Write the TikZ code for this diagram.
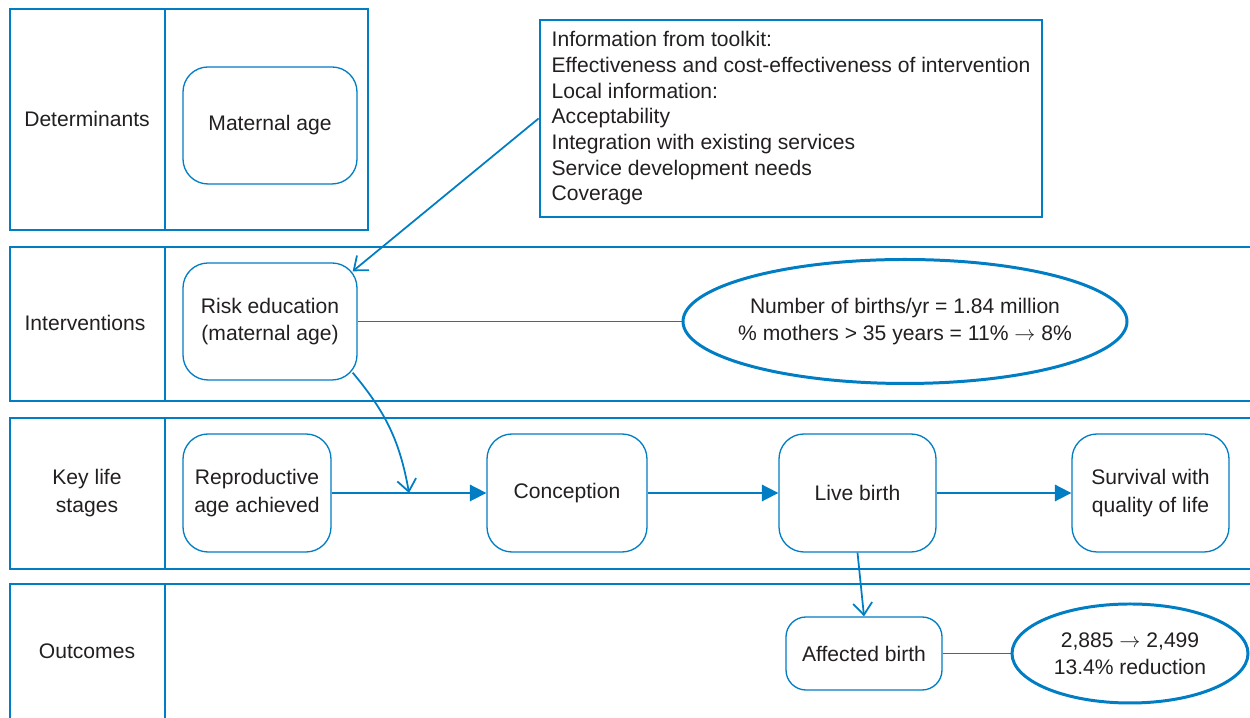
\documentclass[tikz,border=0pt]{standalone}
\usepackage{fontspec}
\setmainfont{Liberation Sans}
\usetikzlibrary{shapes.geometric,arrows.meta}
\definecolor{chartblue}{RGB}{0,125,195}
\definecolor{inkgrey}{RGB}{35,31,32}

\begin{document}
\begin{tikzpicture}[
    font=\fontsize{12}{15.5}\selectfont, text=inkgrey,
    band/.style={draw=chartblue, line width=1.1pt},
    stage/.style={draw=chartblue, line width=0.75pt, rounded corners=0.5cm,
      align=center, minimum height=2.36cm},
    oval/.style={draw=chartblue, ellipse, line width=1.7pt, inner sep=0pt},
    link/.style={draw=chartblue, line width=1pt},
    flow/.style={link, -{Triangle[length=3.3mm,width=3.3mm]}},
    barb/.style={link, -{Straight Barb[length=2.4mm,width=3.8mm]}}
  ]
    \useasboundingbox (0,0) rectangle (25,14.36);
    % Bands
    \draw[band] (0.2,9.76) rectangle (7.36,14.18);
    \draw[band] (3.3,9.76) -- (3.3,14.18);
    \draw[band] (25,9.42) -- (0.2,9.42) -- (0.2,6.34) -- (25,6.34);
    \draw[band] (3.3,9.42) -- (3.3,6.34);
    \draw[band] (25,6.0) -- (0.2,6.0) -- (0.2,2.98) -- (25,2.98);
    \draw[band] (3.3,6.0) -- (3.3,2.98);
    \draw[band] (0.2,0) -- (0.2,2.68) -- (25,2.68);
    \draw[band] (3.3,2.68) -- (3.3,0);
    % Band labels
    \node (detlabel) at (1.74,11.98) {Determinants};
    \node (intlabel) at (1.7,7.9) {Interventions};
    \node[align=center] (stagelabel) at (1.74,4.5) {Key life\\stages};
    \node (outlabel) at (1.74,1.34) {Outcomes};
    % Determinants and interventions
    \node[stage, minimum width=3.48cm, minimum height=2.34cm] (matage) at (5.4,11.85) {Maternal age};
    \node[stage, minimum width=3.48cm, minimum height=2.34cm] (risk) at (5.4,7.93) {Risk education\\(maternal age)};
    \node[draw=chartblue, line width=1.6pt, minimum width=10.04cm, minimum height=3.94cm,
      align=left, font=\fontsize{12}{14.6}\selectfont] (toolkit) at (15.82,11.99)
      {Information from toolkit:\\
       Effectiveness and cost-effectiveness of intervention\\
       Local information:\\
       Acceptability\\
       Integration with existing services\\
       Service development needs\\
       Coverage};
    \node[oval, minimum width=8.88cm, minimum height=2.48cm] (births) at (18.1,7.93) {};
    \node[align=center] (birthstext) at (births) {Number of births/yr = 1.84 million\\\% mothers > 35 years = 11\% $\rightarrow$ 8\%};
    % Key life stages
    \node[stage, minimum width=2.96cm] (repro) at (5.14,4.5) {Reproductive\\age achieved};
    \node[stage, minimum width=3.2cm] (concept) at (11.34,4.5) {Conception};
    \node[stage, minimum width=3.14cm] (live) at (17.15,4.5) {Live birth};
    \node[stage, minimum width=3.14cm] (survive) at (23.01,4.5) {Survival with\\quality of life};
    % Outcomes
    \node[stage, minimum width=3.12cm, minimum height=1.46cm, rounded corners=0.4cm] (affected) at (17.28,1.29) {Affected birth};
    \node[oval, minimum width=4.72cm, minimum height=1.98cm, align=center] (cases) at (22.6,1.29) {2,885 $\rightarrow$ 2,499\\13.4\% reduction};
    % Connectors
    \draw[barb] (toolkit.west) -- ([xshift=-1mm,yshift=-1.8mm]risk.north east);
    \draw[link] (risk.east) -- (births.west);
    \draw[flow] (repro.east) -- coordinate[pos=0.5] (join) (concept.west);
    \draw[barb] ([xshift=-1mm,yshift=1.6mm]risk.south east) to[out=-50,in=100] (join);
    \draw[flow] (concept.east) -- (live.west);
    \draw[flow] (live.east) -- (survive.west);
    \draw[barb] (live.south) -- (affected.north);
    \draw[link] (affected.east) -- (cases.west);
  \end{tikzpicture}
\end{document}
